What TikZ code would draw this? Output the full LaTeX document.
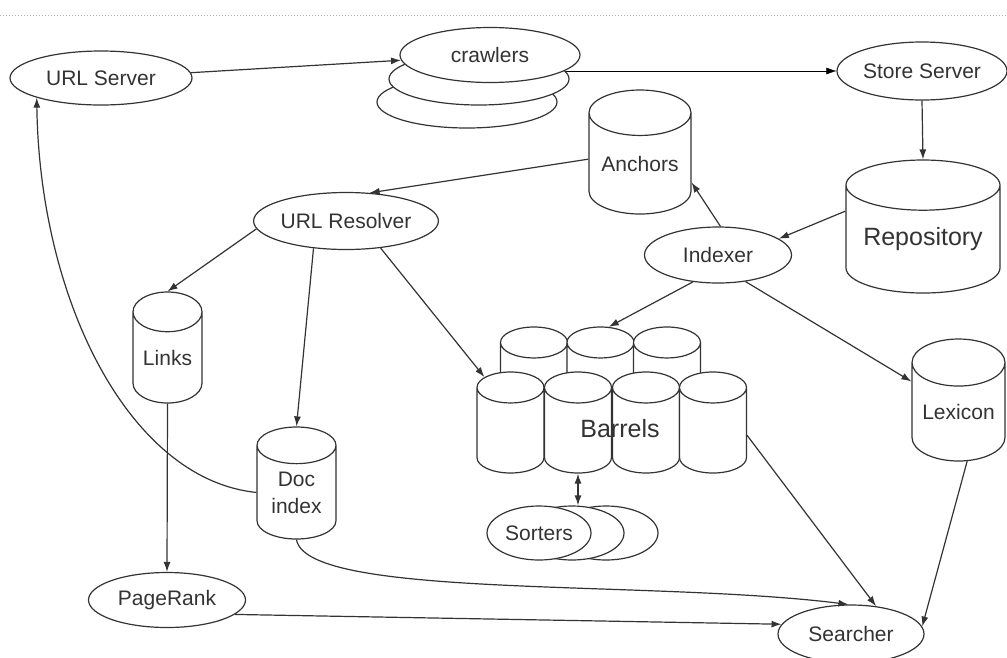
\documentclass[tikz,border=0pt]{standalone}
\usepackage{fontspec}
\setmainfont{Liberation Sans}
\usetikzlibrary{shapes.geometric,arrows.meta,backgrounds}

\begin{document}
\begin{tikzpicture}[x=1pt,y=-1pt,color=black!80,line width=1.2pt,
    >={Latex[length=10pt,width=7pt]},
    proc/.style={ellipse,draw,fill=white,inner sep=0pt,font=\fontsize{21}{25}\selectfont},
    crawler/.style={proc,minimum width=180pt,minimum height=52pt},
    sorter/.style={proc,minimum width=104pt,minimum height=54pt},
    db/.style={cylinder,shape border rotate=90,draw,fill=white,inner sep=0pt,anchor=shape center,
      font=\fontsize{21}{27}\selectfont,align=center},
    barrel/.style={db,minimum width=67pt,minimum height=101pt,aspect=0.78},
    bigtext/.style={font=\fontsize{25}{30}\selectfont}]
          \useasboundingbox (0,0) rectangle (1007,657);
          \draw[gray!60,dotted,line width=1pt] (0,15) -- (1007,15);
          % servers and crawlers
          \node[proc,minimum width=182pt,minimum height=54pt] (urlsrv) at (101,78) {URL Server};
          \node[crawler] (crawl3) at (467,102) {};
          \node[crawler] (crawl2) at (479,79) {};
          \node[crawler,minimum height=55pt] (crawl1) at (490,55) {crawlers};
          \node[proc,minimum width=170pt,minimum height=58pt] (storesrv) at (922,71) {Store Server};
          % data stores
          \node[db,minimum width=102pt,minimum height=124pt,aspect=0.59] (anchors) at (640,152) {Anchors};
          \node[db,minimum width=154pt,minimum height=133pt,aspect=0.42,bigtext] (repo) at (923,226.5) {Repository};
          \node[db,minimum width=69pt,minimum height=111pt,aspect=0.81] (links) at (167.5,347.5) {Links};
          \node[db,minimum width=79pt,minimum height=112pt,aspect=0.73] (docidx) at (296.5,483) {Doc\\index};
          \node[db,minimum width=93pt,minimum height=122pt,aspect=0.65] (lexicon) at (958.5,400) {Lexicon};
          \foreach \i/\x in {1/534,2/600.5,3/667}
          {
          \node[barrel] (bb\i) at (\x,377.5) {\phantom{Barr}};
          }
          \foreach \i/\x in {1/510.5,2/578,3/646,4/713}
          {
          \node[barrel] (bf\i) at (\x,422.5) {\phantom{Barr}};
          }
          \node[bigtext] (barrels) at (620,429) {Barrels};
          % processes
          \node[proc,minimum width=147pt,minimum height=56pt] (indexer) at (718,255) {Indexer};
          \node[proc,minimum width=178pt,minimum height=57pt] (urlres) at (346,221) {URL Resolver};
          \node[sorter] (sort3) at (606,533) {};
          \node[sorter] (sort2) at (572,533) {};
          \node[sorter] (sort1) at (539,533) {Sorters};
          \node[proc,minimum width=157pt,minimum height=55pt] (pagerank) at (167,600) {PageRank};
          \node[proc,minimum width=146pt,minimum height=58pt] (searcher) at (851,634) {Searcher};
          % connectors
          \begin{scope}[on background layer]
          \draw[->] (crawl2.center |- storesrv.west) -- (storesrv.west);
          \end{scope}
          \draw[->] (urlsrv) -- (crawl1);
          \draw[->] (storesrv.south) -- (repo.north);
          \draw[->] (repo.160) -- (indexer.15);
          \draw[->] (indexer.85) -- (anchors.340);
          \draw[->] (anchors.175) -- (urlres.50);
          \draw[->] (urlres.185) -- (links.north);
          \draw[->] (urlres.220) -- (docidx.north);
          \draw[->] (urlres.322) -- (bf1.116);
          \draw[->] (indexer.227) -- (bb2.82);
          \draw[->] (indexer.316) -- (lexicon.147);
          \draw[->] (lexicon.280) -- (searcher.6);
          \draw[->] (bf4.-8) -- (searcher.48);
          \draw[<->] (bf2.south) -- (bf2.south |- sort2.north);
          \draw[->] (links.south) -- (pagerank.north);
          \draw[->] (pagerank.-12) -- (searcher.172);
          \draw[->] (docidx.south) .. controls +(10,60) and +(-200,-25) .. (searcher.95);
          \draw[->] (docidx.west) .. controls +(-127,-13) and +(3,203) .. (urlsrv.197);
        \end{tikzpicture}
\end{document}
